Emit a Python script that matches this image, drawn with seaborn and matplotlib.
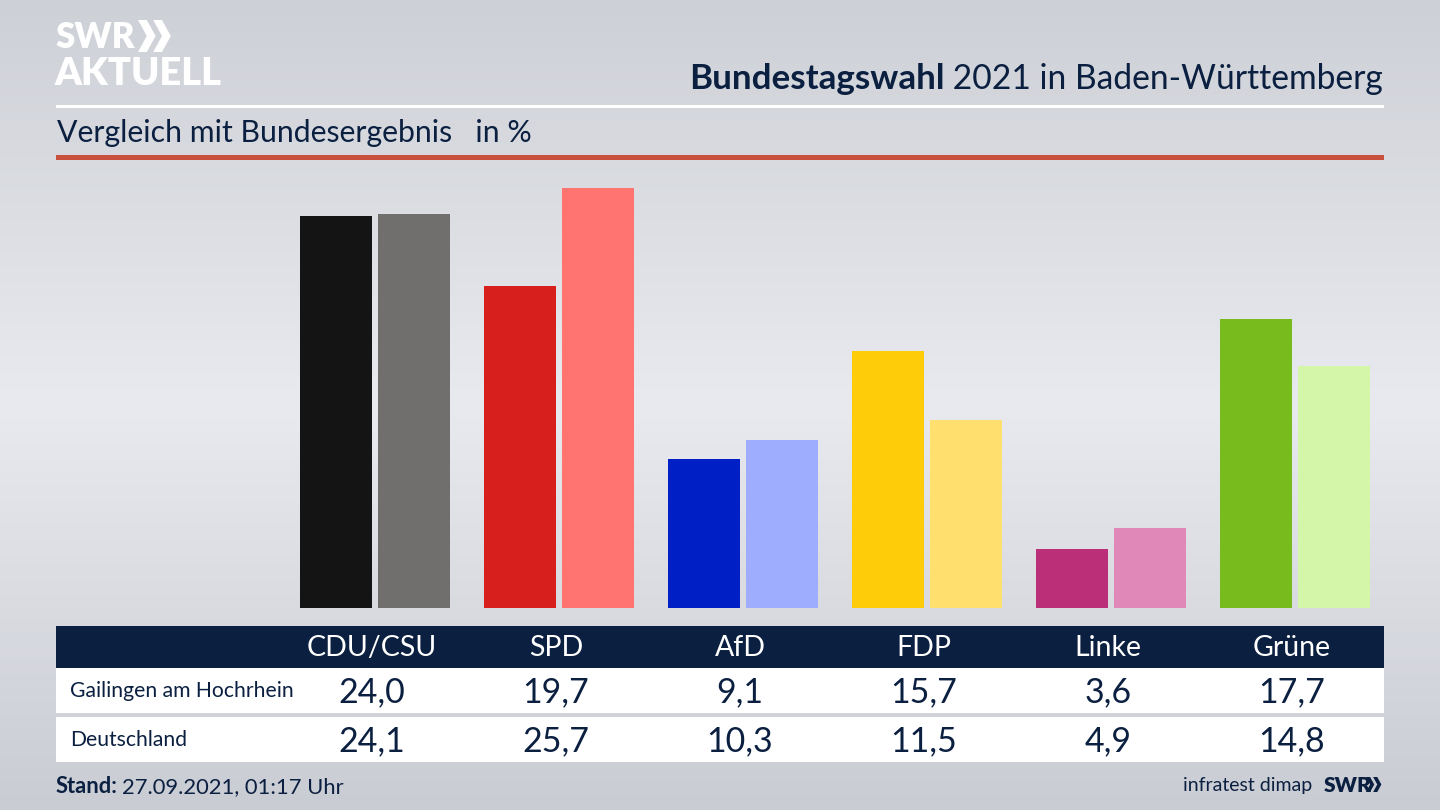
import numpy as np
import pandas as pd
import matplotlib
matplotlib.use('Agg')
import matplotlib.pyplot as plt
import seaborn as sns
from matplotlib.colors import LinearSegmentedColormap
from matplotlib.patches import Rectangle, Polygon

parties = ['CDU/CSU', 'SPD', 'AfD', 'FDP', 'Linke', 'Grüne']
gailingen = [24.0, 19.7, 9.1, 15.7, 3.6, 17.7]
deutschland = [24.1, 25.7, 10.3, 11.5, 4.9, 14.8]
row_names = ['Gailingen am Hochrhein', 'Deutschland']

colors_local = ['#141414', '#d71f1d', '#0020c6', '#ffcc0a', '#bb2f78', '#77bc1c']
colors_federal = ['#706f6d', '#ff7470', '#9fadff', '#ffe06e', '#e088b8', '#d3f6a8']

NAVY = '#0b2040'
W, H = 1440, 810

sns.set_theme(style='white')
plt.rcParams['font.family'] = ['Lato', 'DejaVu Sans']


def px(size):
    # font size given in pixels at dpi 100
    return size * 0.72


fig = plt.figure(figsize=(W / 100, H / 100), dpi=100)

# background gradient, lightest around the middle
bg = fig.add_axes([0, 0, 1, 1])
cmap = LinearSegmentedColormap.from_list('bg', ['#cdd0d6', '#e9eaef', '#c9ccd3'])
bg.imshow(np.linspace(0, 1, 256).reshape(-1, 1), cmap=cmap, aspect='auto', extent=(0, W, H, 0))
bg.set_xlim(0, W)
bg.set_ylim(H, 0)
bg.axis('off')

# bars, 16.35 px per percent, baseline at y=608
df = pd.DataFrame({
    'party': parties * 2,
    'value': gailingen + deutschland,
    'row': [row_names[0]] * 6 + [row_names[1]] * 6,
})
ax = fig.add_axes([0, (H - 608) / H, 1, (608 - 165) / H])
sns.barplot(data=df, x='party', y='value', hue='row', order=parties, hue_order=row_names,
            width=0.848, gap=0.077, saturation=1, legend=False, ax=ax)
for cont, cols in zip(ax.containers, [colors_local, colors_federal]):
    for bar, c in zip(cont, cols):
        bar.set_facecolor(c)
        bar.set_edgecolor('none')
ax.set_xlim(-375 / 184, (W - 375) / 184)
ax.set_ylim(0, (608 - 165) / 16.35)
ax.axis('off')

# everything else in pixel coordinates
ov = fig.add_axes([0, 0, 1, 1])
ov.set_xlim(0, W)
ov.set_ylim(H, 0)
ov.axis('off')

ov.add_patch(Rectangle((56, 104.5), 1328, 3, color='white', lw=0))
ov.add_patch(Rectangle((56, 155), 1328, 5, color='#c9503c', lw=0))

ov.text(57, 133, 'Vergleich mit Bundesergebnis   in %', fontsize=px(30.3), color=NAVY,
        ha='left', va='center')
t1 = ov.text(1383, 79, ' 2021 in Baden-Württemberg', fontsize=px(33.6), color=NAVY,
             ha='right', va='center')
ov.annotate('Bundestagswahl', xy=(0, 0), xycoords=t1, ha='right', va='bottom',
            fontsize=px(35), fontweight='bold', color=NAVY)


def chevrons(x, y, h, color):
    # the double arrow of the SWR logo
    w = h * 0.5
    for dx in (0, w * 0.95):
        ov.add_patch(Polygon([(x + dx, y), (x + dx + w * 0.55, y), (x + dx + w * 1.1, y + h / 2),
                              (x + dx + w * 0.55, y + h), (x + dx, y + h),
                              (x + dx + w * 0.55, y + h / 2)], color=color, lw=0))


# logo
ov.text(55, 37, 'SWR', fontsize=px(35), fontweight='heavy', color='white', ha='left', va='center')
chevrons(138, 20, 32, 'white')
ov.text(55, 74, 'AKTUELL', fontsize=px(38), fontweight='heavy', color='white', ha='left', va='center')

# table
ov.add_patch(Rectangle((56, 626), 1328, 42, color=NAVY, lw=0))
ov.add_patch(Rectangle((56, 668), 1328, 45, color='white', lw=0))
ov.add_patch(Rectangle((56, 717), 1328, 45, color='white', lw=0))

for i, party in enumerate(parties):
    xc = 372 + 184 * i
    ov.text(xc, 647.5, party, fontsize=px(28.5), color='white', ha='center', va='center')
    ov.text(xc, 692, f'{gailingen[i]:.1f}'.replace('.', ','), fontsize=px(34), color=NAVY,
            ha='center', va='center')
    ov.text(xc, 741, f'{deutschland[i]:.1f}'.replace('.', ','), fontsize=px(34), color=NAVY,
            ha='center', va='center')

ov.text(70, 691, row_names[0], fontsize=px(21.2), color=NAVY, ha='left', va='center')
ov.text(70, 740, row_names[1], fontsize=px(21.2), color=NAVY, ha='left', va='center')

# footer, both parts on one baseline
ov.text(56, 793, 'Stand:', fontsize=px(22), fontweight='bold', color=NAVY, ha='left', va='baseline')
ov.text(122, 793, '27.09.2021, 01:17 Uhr', fontsize=px(22), color=NAVY, ha='left', va='baseline')
ov.text(1312, 785, 'infratest dimap', fontsize=px(19.5), color=NAVY, ha='right', va='center')
ov.text(1324, 785, 'SWR', fontsize=px(21), fontweight='heavy', color=NAVY, ha='left', va='center')
chevrons(1366, 777, 15, NAVY)

fig.savefig('out.png', dpi=100)
plt.close(fig)
